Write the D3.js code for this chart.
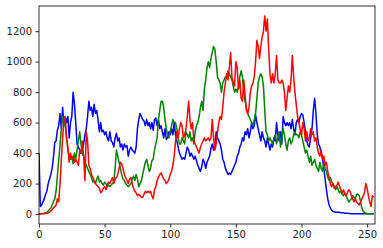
<!DOCTYPE html>
<html>
<head>
<meta charset="utf-8">
<script src="https://cdn.jsdelivr.net/npm/d3@7"></script>
<style>
  body { margin: 0; background: #fff; }
  svg { display: block; }
  .tick text { font-family: "DejaVu Sans", sans-serif; font-size: 10px; fill: #262626; }
</style>
</head>
<body>
<svg width="383" height="248"></svg>
<script>
// per-bin pixel counts (bins 0..255)
const blue = [400,50,60,80,100,130,150,200,230,260,300,370,470,480,550,580,660,560,700,580,
  640,600,640,500,600,640,800,720,600,460,440,420,400,420,460,520,560,640,740,680,
  700,640,720,660,680,620,540,600,540,550,520,540,500,480,540,480,470,440,500,530,
  480,500,440,460,420,460,440,450,380,420,440,420,410,400,440,560,620,660,640,620,
  610,580,620,580,600,560,600,550,620,630,580,620,560,580,540,500,560,490,500,540,
  520,560,520,600,520,480,440,400,380,360,370,360,400,440,420,380,400,380,360,380,
  350,320,300,280,310,360,340,300,340,360,380,430,460,420,460,540,500,480,460,420,
  360,340,300,280,260,270,260,280,300,320,340,380,400,440,460,500,480,540,520,560,
  500,540,600,560,580,650,600,560,520,480,540,500,480,440,500,460,420,460,440,500,
  480,600,520,480,540,460,640,600,580,600,580,600,560,620,560,520,600,620,600,640,
  660,650,600,540,480,450,440,500,560,680,760,660,520,460,440,400,360,300,230,160,
  100,60,40,25,18,15,12,12,12,12,8,8,8,6,6,5,4,4,3,3,
  3,3,2,2,2,2,2,2,2,2,2,2,2,2,2,2];

const green = [0,2,3,4,5,8,10,20,30,40,60,80,100,150,250,350,450,560,640,600,
  580,500,420,380,360,380,330,400,360,420,480,540,460,400,380,340,320,300,280,260,
  240,210,220,200,230,250,210,220,200,190,210,200,180,190,180,190,200,210,300,420,
  380,340,300,260,230,220,200,190,180,190,200,230,250,220,260,230,180,200,220,260,
  300,340,360,320,280,300,350,360,420,460,500,620,680,740,740,700,620,560,520,500,
  540,580,620,600,600,560,500,460,460,500,480,460,540,520,500,540,480,500,460,540,
  580,600,640,700,740,680,820,880,960,1000,960,1020,1060,1100,1080,1000,900,880,860,800,
  860,880,900,900,940,920,900,880,840,800,820,800,840,900,940,900,800,740,700,660,
  640,620,600,580,620,660,760,860,900,920,900,840,680,540,520,480,500,480,460,500,
  520,460,500,540,440,500,560,520,460,420,480,500,460,480,520,540,520,520,500,540,
  520,480,440,400,420,380,340,380,320,340,360,320,300,280,340,300,280,340,300,280,
  240,220,240,210,200,180,160,180,160,140,150,130,120,140,120,100,80,90,100,120,
  110,100,130,130,120,80,40,20,10,5,2,2,2,2,2,2];

const red = [0,0,2,3,4,5,6,8,10,20,30,40,50,60,100,80,200,350,500,620,
  640,500,440,340,400,360,380,340,360,340,320,420,400,480,380,220,540,480,320,300,
  260,240,220,200,190,180,170,140,150,170,180,160,190,210,200,220,240,200,230,240,
  260,300,340,330,300,260,240,220,200,230,240,200,170,150,140,120,130,120,110,110,
  130,150,140,150,140,150,120,100,160,180,220,240,260,270,250,230,220,200,210,230,
  260,280,320,380,480,540,500,560,600,580,500,520,560,640,740,620,560,600,480,460,
  440,420,400,440,460,480,500,480,490,500,480,500,620,500,420,460,540,600,640,620,
  700,800,860,920,880,960,1060,900,860,840,1000,960,820,880,760,740,880,780,680,660,
  700,800,840,860,900,1000,1140,1100,1020,1100,1160,1200,1300,1200,1280,1080,920,860,920,860,
  920,1040,880,860,860,880,860,800,680,760,840,800,880,1040,900,800,720,640,600,560,
  520,600,560,480,540,480,500,560,520,540,480,500,440,400,380,420,360,380,320,340,
  280,240,200,180,200,170,180,190,210,180,160,140,160,130,120,140,160,150,120,100,
  80,100,80,70,60,80,100,120,140,200,170,120,80,50,120,110];

const series = [
  { color: "#0000ff", values: blue },
  { color: "#008000", values: green },
  { color: "#ff0000", values: red }
];

const xTicks = [0, 50, 100, 150, 200, 250];
const yTicks = [0, 200, 400, 600, 800, 1000, 1200];

let svg = d3.select("svg");
const margin = { left: 39, right: 8, top: 6, bottom: 24 };
const width = 383 - margin.left - margin.right,
      height = 248 - margin.top - margin.bottom;

const g = svg.append("g").attr("transform", `translate(${margin.left},${margin.top})`);

const x = d3.scaleLinear().domain([0, 256]).range([0, width]);
const y = d3.scaleLinear().domain([-65, 1365]).range([height, 0]);

const line = d3.line()
    .x(function(d, i) { return x(i); })
    .y(function(d) { return y(d); });

g.append("defs").append("clipPath").attr("id", "clip")
  .append("rect").attr("width", width).attr("height", height);

g.append("g").attr("clip-path", "url(#clip)")
  .selectAll("path")
  .data(series)
  .enter().append("path")
    .attr("d", function(d) { return line(d.values); })
    .attr("fill", "none")
    .attr("stroke", function(d) { return d.color; })
    .attr("stroke-width", 1.5)
    .attr("stroke-linejoin", "round");

// axes
const xAxis = g.append("g")
    .attr("transform", `translate(0,${height})`)
    .call(d3.axisBottom(x).tickValues(xTicks).tickFormat(d3.format("d")).tickSize(3.5).tickPadding(3.5));
const yAxis = g.append("g")
    .call(d3.axisLeft(y).tickValues(yTicks).tickFormat(d3.format("d")).tickSize(3.5).tickPadding(3.5));

[xAxis, yAxis].forEach(function(a) {
  a.select(".domain").remove();
  a.selectAll(".tick line").attr("stroke", "#000").attr("stroke-width", 0.8);
});

g.append("rect")
    .attr("width", width).attr("height", height)
    .attr("fill", "none").attr("stroke", "#000").attr("stroke-width", 0.8);
</script>
</body>
</html>
